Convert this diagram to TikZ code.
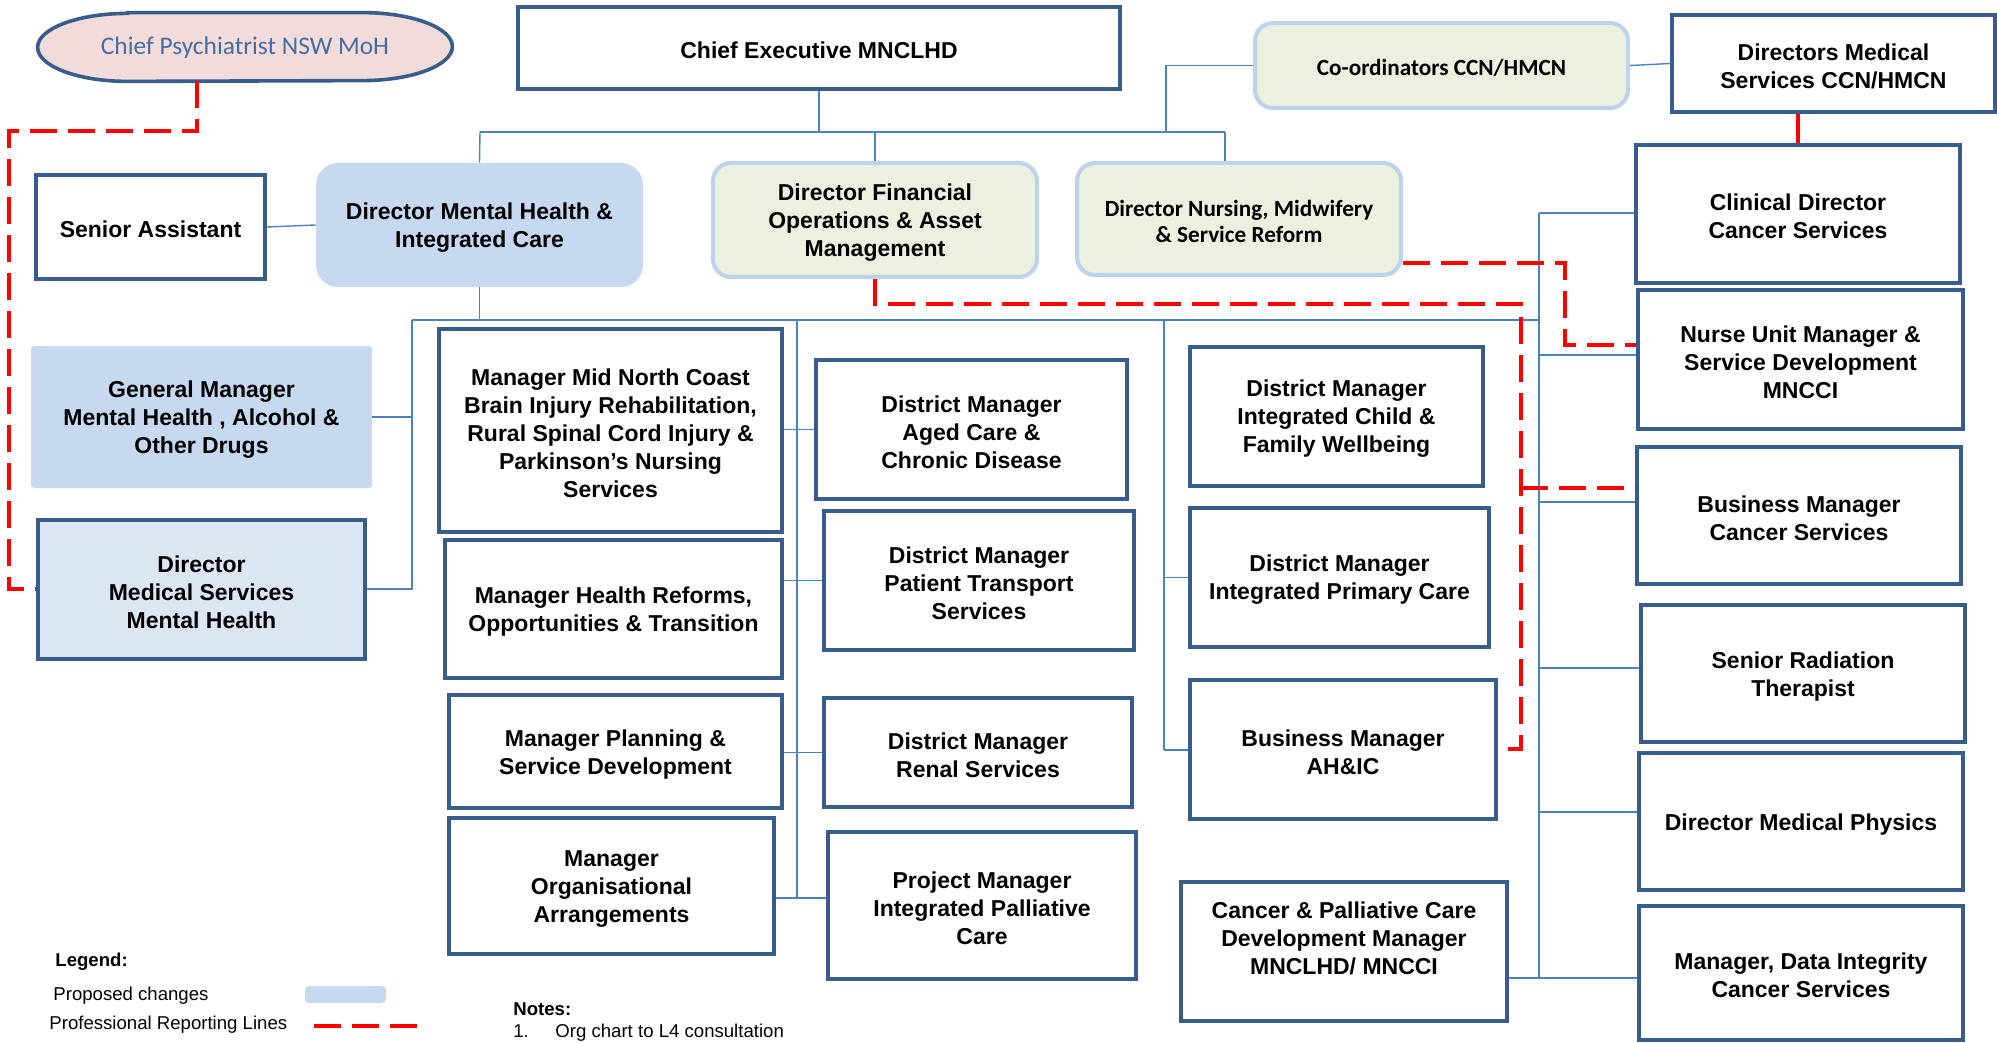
\documentclass[tikz,border=0pt]{standalone}
\usepackage{fontspec}
\setmainfont{Liberation Sans}
\newfontfamily\calfont{Carlito}
\usetikzlibrary{backgrounds}
\definecolor{bdr}{RGB}{56,93,138}
\definecolor{cn}{RGB}{79,129,189}
\definecolor{pb}{RGB}{198,217,241}
\definecolor{pbl}{RGB}{220,230,242}
\definecolor{gf}{RGB}{235,241,222}
\definecolor{gb}{RGB}{190,210,236}
\definecolor{pk}{RGB}{242,220,219}
\definecolor{cpt}{RGB}{70,108,160}
\definecolor{rd}{RGB}{255,0,0}
\newcommand\ob[7]{%
 \pgfmathsetmacro\obw{0.5*(#4-#2)}%
 \pgfmathsetmacro\obh{0.5*(#5-#3)}%
 \node[#6, minimum width=\obw pt, minimum height=\obh pt] (#1) at ({(#2+#4)/2},{(#3+#5)/2}) {};
 \node[#6, draw=none, fill=none] (#1t) at ([yshift=-1.3pt]#1.center) {#7};}
\begin{document}
\begin{tikzpicture}[x=0.5pt,y=-0.5pt,
  lbl/.style={inner sep=0pt, align=center, font=\fontsize{11.5}{14}\selectfont\bfseries},
  wbox/.style={lbl, draw=bdr, line width=1.7pt, fill=white},
  bbox/.style={lbl, fill=pb, rounded corners=11pt},
  pbox/.style={lbl, fill=pb, rounded corners=1.5pt},
  lbox/.style={lbl, draw=bdr, line width=1.7pt, fill=pbl},
  gbox/.style={lbl, draw=gb, line width=2pt, fill=gf, rounded corners=9pt},
  calib/.style={font=\calfont\fontsize{11.6}{13.3}\selectfont\bfseries},
  cpst/.style={inner sep=0pt, font=\calfont\fontsize{12.7}{15}\selectfont, text=cpt},
  conn/.style={draw=cn, line width=0.7pt},
  redd/.style={draw=rd, line width=1.6pt, dash pattern=on 13.5pt off 5.5pt},
  legt/.style={anchor=base west, inner sep=0pt, font=\fontsize{9.3}{11}\selectfont},
  legb/.style={legt, font=\fontsize{9.3}{11}\selectfont\bfseries}]
\useasboundingbox (0,0) rectangle (1997,1043);

% ---- nodes ----
\node[cpst, minimum width=207pt, minimum height=34pt] (cp) at (245,47) {};
\begin{scope}[on background layer]
\draw[fill=pk, draw=bdr, line width=1.8pt]
  ([xshift=45pt]cp.north west) -- ([xshift=-45pt]cp.north east)
  arc[start angle=90, end angle=-90, x radius=45pt, y radius=17pt]
  -- ([xshift=45pt]cp.south west)
  arc[start angle=270, end angle=90, x radius=45pt, y radius=17pt] -- cycle;
\end{scope}
\node[cpst] (cpt) at ([yshift=-0.5pt]cp.center) {Chief Psychiatrist NSW MoH};
\ob{ce}{518}{7}{1120}{89}{wbox}{Chief Executive MNCLHD}
\ob{coord}{1255}{23}{1628}{108}{gbox,calib}{Co-ordinators CCN/HMCN}
\ob{dmsc}{1672}{15}{1995}{112}{wbox}{Directors Medical\\Services CCN/HMCN}
\ob{sa}{36}{175}{265}{279}{wbox}{Senior Assistant}
\ob{dmh}{316}{163}{643}{287}{bbox}{Director Mental Health \&\\Integrated Care}
\ob{dfo}{713}{163}{1037}{277}{gbox}{Director Financial\\Operations \& Asset\\Management}
\ob{dnm}{1077}{163}{1401}{275}{gbox,calib}{Director Nursing, Midwifery\\\& Service Reform}
\ob{cd}{1636}{145}{1960}{283}{wbox}{Clinical Director\\Cancer Services}
\ob{num}{1638}{290}{1963}{429}{wbox}{Nurse Unit Manager \&\\Service Development\\MNCCI}
\ob{bmcs}{1637}{447}{1961}{584}{wbox}{Business Manager\\Cancer Services}
\ob{srt}{1641}{605}{1965}{742}{wbox}{Senior Radiation\\Therapist}
\ob{dmp}{1639}{753}{1963}{890}{wbox}{Director Medical Physics}
\ob{mdi}{1639}{906}{1963}{1040}{wbox}{Manager, Data Integrity\\Cancer Services}
\ob{gm}{31}{346}{372}{488}{pbox}{General Manager\\Mental Health , Alcohol \&\\Other Drugs}
\ob{dmsmh}{38}{520}{365}{659}{lbox}{Director\\Medical Services\\Mental Health}
\ob{mnc}{439}{329}{782}{532}{wbox}{Manager Mid North Coast\\Brain Injury Rehabilitation,\\Rural Spinal Cord Injury \&\\Parkinson’s Nursing\\Services}
\ob{mhr}{445}{540}{782}{678}{wbox}{Manager Health Reforms,\\Opportunities \& Transition}
\ob{mpsd}{449}{695}{782}{808}{wbox}{Manager Planning \&\\Service Development}
\ob{moa}{449}{818}{774}{954}{wbox}{Manager\\Organisational\\Arrangements}
\ob{aged}{816}{360}{1127}{499}{wbox}{District Manager\\Aged Care \&\\Chronic Disease}
\ob{pt}{824}{511}{1134}{650}{wbox}{District Manager\\Patient Transport\\Services}
\ob{renal}{824}{698}{1132}{807}{wbox}{District Manager\\Renal Services}
\ob{pmipc}{828}{832}{1136}{979}{wbox}{Project Manager\\Integrated Palliative\\Care}
\ob{child}{1190}{347}{1483}{486}{wbox}{District Manager\\Integrated Child \&\\Family Wellbeing}
\ob{ipc}{1190}{508}{1489}{647}{wbox}{District Manager\\Integrated Primary Care}
\ob{ahic}{1190}{680}{1496}{819}{wbox}{Business Manager\\AH\&IC}
\ob{cpc}{1181}{882}{1507}{1021}{wbox}{}
\node[lbl] (cpct) at (1344,938) {Cancer \& Palliative Care\\Development Manager\\MNCLHD/ MNCCI};

% ---- coordinates ----
\coordinate (t1L) at (480,132);
\coordinate (t1R) at (1225,132);
\coordinate (cj) at (1166,132);
\coordinate (t2L) at (412,320);
\coordinate (t2R) at (1539,320);
\coordinate (v1b) at (412,589);
\coordinate (v2t) at (797,320);
\coordinate (v2b) at (797,898);
\coordinate (v3t) at (1164,320);
\coordinate (v3b) at (1164,750);
\coordinate (trT) at (1539,213);
\coordinate (trB) at (1539,978);
\coordinate (b2) at (1539,355);
\coordinate (b3) at (1539,502);
\coordinate (b4) at (1539,668);
\coordinate (b5) at (1539,812);

% ---- connectors ----
\draw[conn] (ce.south) -- (ce.south |- t1L);
\draw[conn] (t1L) -- (t1R);
\draw[conn] (t1L) -- (dmh.north);
\draw[conn] (dfo.north |- t1L) -- (dfo.north);
\draw[conn] (t1R) -- (t1R |- dnm.north);
\draw[conn] (cj) |- (coord.west);
\draw[conn] (coord.east) -- (dmsc.west);
\draw[conn] (sa.east) -- (dmh.west);
\draw[conn] (dmh.south) -- (dmh.south |- t2L);
\draw[conn] (t2L) -- (t2R);
\draw[conn] (t2L) -- (v1b) -- (dmsmh.east |- v1b);
\draw[conn] (gm.east) -- (gm.east -| t2L);
\draw[conn] (v2t) -- (v2b);
\draw[conn] (mnc.east |- aged.west) -- (aged.west);
\draw[conn] (mhr.east |- pt.west) -- (pt.west);
\draw[conn] (mpsd.east |- renal.west) -- (renal.west);
\draw[conn] (moa.east |- v2b) -- (pmipc.west |- v2b);
\draw[conn] (v3t) -- (v3b);
\draw[conn] (v3t |- ipc.west) -- (ipc.west);
\draw[conn] (v3b) -- (ahic.west |- v3b);
\draw[conn] (trT) -- (trB);
\draw[conn] (trT) -- (trT -| cd.west);
\draw[conn] (b2) -- (b2 -| num.west);
\draw[conn] (b3) -- (b3 -| bmcs.west);
\draw[conn] (b4) -- (b4 -| srt.west);
\draw[conn] (b5) -- (b5 -| dmp.west);
\draw[conn] (cpc.east |- trB) -- (trB -| mdi.west);

% ---- professional reporting lines ----
\coordinate (r1a) at (197,131);
\coordinate (r1b) at (9,131);
\draw[redd] (cp.south -| r1a) -- (r1a) -- (r1b) |- (dmsmh.west |- v1b);
\coordinate (r2a) at (875,304);
\coordinate (r2b) at (1521,304);
\coordinate (r2c) at (1521,749);
\draw[redd] (dfo.south) -- (r2a) -- (r2b) -- (r2c) -- (ahic.east |- r2c);
\coordinate (r3) at (1521,488);
\draw[redd] (r3) -- (r3 -| bmcs.west);
\coordinate (r4a) at (1565,263);
\coordinate (r4b) at (1565,345);
\draw[redd] (dnm.east |- r4a) -- (r4a) -- (r4b) -- (r4b -| num.west);
\draw[draw=rd, line width=1.7pt] (cd.north |- dmsc.south) -- (cd.north);

% ---- legend ----
\node[legb] (leg) at (55,966) {Legend:};
\node[legt] (legp) at (53,1000) {Proposed changes};
\node[legt] (legr) at (49,1029) {Professional Reporting Lines};
\ob{legsw}{305}{986}{386}{1003}{fill=pb, rounded corners=2pt, inner sep=0pt}{}
\coordinate (lg1) at (314,1026);
\coordinate (lg2) at (419,1026);
\draw[redd] (lg1) -- (lg2);
\node[legb] (notes) at (513,1015) {Notes:};
\node[legt] (n1) at (513,1037) {1.};
\node[legt] (n1t) at (555,1037) {Org chart to L4 consultation};
\end{tikzpicture}
\end{document}
